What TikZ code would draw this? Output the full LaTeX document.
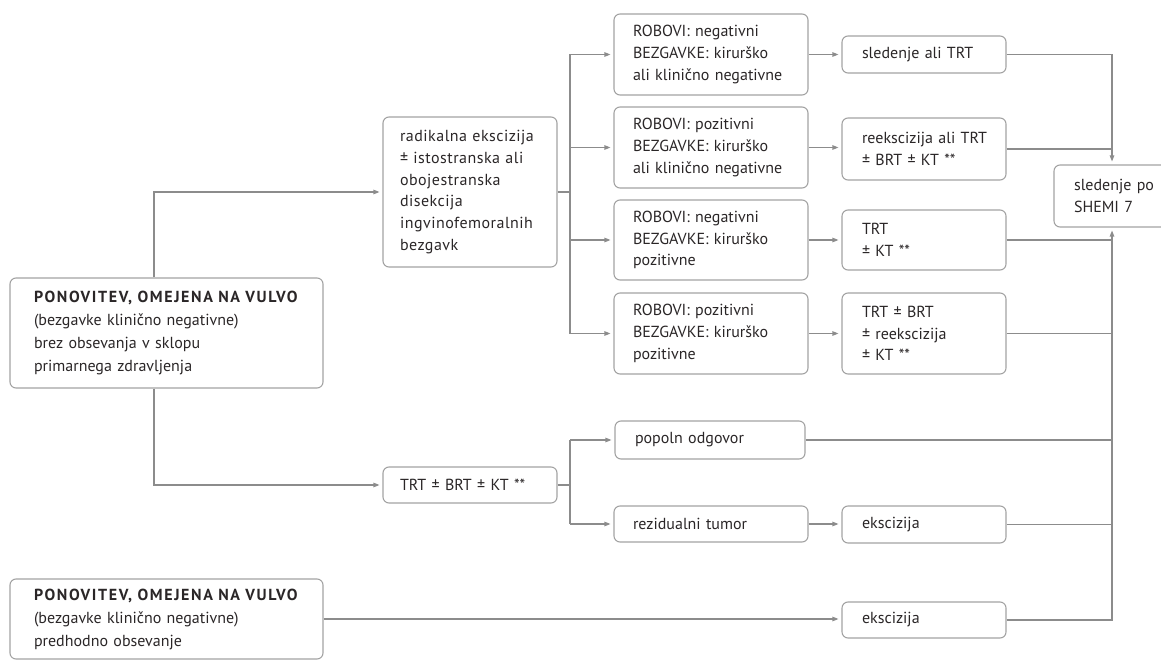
\documentclass[tikz,border=0pt]{standalone}
\usepackage{fontspec}
\setmainfont{PT Sans}
\usetikzlibrary{arrows.meta}
\definecolor{lnc}{HTML}{8C8C8C}
\definecolor{bdc}{HTML}{A3A3A3}
\definecolor{txc}{HTML}{2A2627}
\newcommand\ml[1]{\mbox{#1}}
\tikzset{
  box/.style={draw=bdc, line width=1.1pt, rounded corners=6pt, align=left,
    inner xsep=0pt, inner ysep=2pt, text=txc, font=\fontsize{16}{21.7}\selectfont},
  bigbox/.style={box, font=\fontsize{16}{23}\selectfont},
  widebox/.style={box, font=\fontsize{16}{21.7}\selectfont\addfontfeature{LetterSpace=3}},
  arr/.style={draw=lnc, line width=1.1pt, -{Triangle[length=6pt,width=4.5pt]}, shorten >=3pt},
  lnk/.style={draw=lnc, line width=1.1pt},
}
\newcommand\hdr{\ml{\bfseries\addfontfeature{LetterSpace=10}PONOVITEV, OMEJENA NA VULVO}}
\begin{document}
\begin{tikzpicture}[x=1pt,y=-1pt]
\useasboundingbox (0,0) rectangle (1161,660);
% left column
\node[bigbox, minimum width=313, minimum height=110, text width=265] (b1) at (166.5,333)
  {\hdr\\\ml{(bezgavke klinično negativne)}\\\ml{brez obsevanja v sklopu}\\\ml{primarnega zdravljenja}};
\node[bigbox, minimum width=313, minimum height=80, text width=265] (b3) at (166.5,619)
  {\hdr\\\ml{(bezgavke klinično negativne)}\\\ml{predhodno obsevanje}};
% second column
\node[widebox, minimum width=174, minimum height=150, text width=140] (rad) at (470,192)
  {\ml{radikalna ekscizija}\\\ml{± istostranska ali}\\obojestranska\\disekcija\\ingvinofemoralnih\\bezgavk};
\node[box, minimum width=174, minimum height=36, text width=140] (trt) at (470,485)
  {\ml{TRT ± BRT ± KT **}};
% third column
\node[box, minimum width=194, minimum height=81, text width=156] (a1) at (711,54.5)
  {\ml{ROBOVI: negativni}\\\ml{BEZGAVKE: kirurško}\\\ml{ali klinično negativne}};
\node[box, minimum width=194, minimum height=81, text width=156] (a2) at (711,147.5)
  {\ml{ROBOVI: pozitivni}\\\ml{BEZGAVKE: kirurško}\\\ml{ali klinično negativne}};
\node[box, minimum width=194, minimum height=80, text width=156] (a3) at (711,240)
  {\ml{ROBOVI: negativni}\\\ml{BEZGAVKE: kirurško}\\pozitivne};
\node[box, minimum width=194, minimum height=81, text width=156] (a4) at (711,333.5)
  {\ml{ROBOVI: pozitivni}\\\ml{BEZGAVKE: kirurško}\\pozitivne};
\node[box, minimum width=190, minimum height=38, text width=150] (pop) at (710,440)
  {\ml{popoln odgovor}};
\node[box, minimum width=194, minimum height=36, text width=156] (rez) at (711,524)
  {\ml{rezidualni tumor}};
% fourth column
\node[box, minimum width=164, minimum height=37, text width=124] (c1) at (924,54.5)
  {\ml{sledenje ali TRT}};
\node[box, minimum width=164, minimum height=62, text width=124] (c2) at (924,149)
  {\ml{reekscizija ali TRT}\\\ml{± BRT ± KT **}};
\node[box, minimum width=164, minimum height=60, text width=124] (c3) at (924,240)
  {TRT\\\ml{± KT **}};
\node[box, minimum width=164, minimum height=81, text width=124] (c4) at (924,333.5)
  {\ml{TRT ± BRT}\\\ml{± reekscizija}\\\ml{± KT **}};
\node[box, minimum width=164, minimum height=37, text width=124] (c5) at (924,524.5)
  {ekscizija};
\node[box, minimum width=164, minimum height=36, text width=124] (c6) at (924,620)
  {ekscizija};
% final
\node[box, minimum width=130, minimum height=62, text width=90] (sled) at (1119,196)
  {\ml{sledenje po}\\\ml{SHEMI 7}};
% junction coordinates
\coordinate (j1) at (154,0);
\coordinate (busA) at (570,0);
\coordinate (busB) at (1112,0);
% connectors left
\draw[arr] (b1.north -| j1) |- (rad.west);
\draw[arr] (b1.south -| j1) |- (trt.west);
\draw[lnk] (rad.east) -- (busA |- rad.east);
\draw[lnk] (busA |- a1.west) -- (busA |- a4.west);
\draw[arr] (busA |- a1.west) -- (a1.west);
\draw[arr] (busA |- a2.west) -- (a2.west);
\draw[arr] (busA |- a3.west) -- (a3.west);
\draw[arr] (busA |- a4.west) -- (a4.west);
\draw[lnk] (trt.east) -- (busA |- trt.east);
\draw[lnk] (busA |- pop.west) -- (busA |- rez.west);
\draw[arr] (busA |- pop.west) -- (pop.west);
\draw[arr] (busA |- rez.west) -- (rez.west);
% middle arrows
\draw[arr] (a1.east) -- (a1.east -| c1.west);
\draw[arr] (a2.east) -- (a2.east -| c2.west);
\draw[arr] (a3.east) -- (a3.east -| c3.west);
\draw[arr] (a4.east) -- (a4.east -| c4.west);
\draw[arr] (rez.east) -- (rez.east -| c5.west);
\draw[arr] (b3.east) -- (b3.east -| c6.west);
% right bus
\draw[arr] (c1.east) -- (busB |- c1.east) -- (busB |- sled.north);
\draw[lnk] (c2.east) -- (busB |- c2.east);
\draw[arr] (c6.east) -- (busB |- c6.east) -- (busB |- sled.south);
\draw[lnk] (c3.east) -- (busB |- c3.east);
\draw[lnk] (c4.east) -- (busB |- c4.east);
\draw[lnk] (pop.east) -- (busB |- pop.east);
\draw[lnk] (c5.east) -- (busB |- c5.east);
\end{tikzpicture}
\end{document}
